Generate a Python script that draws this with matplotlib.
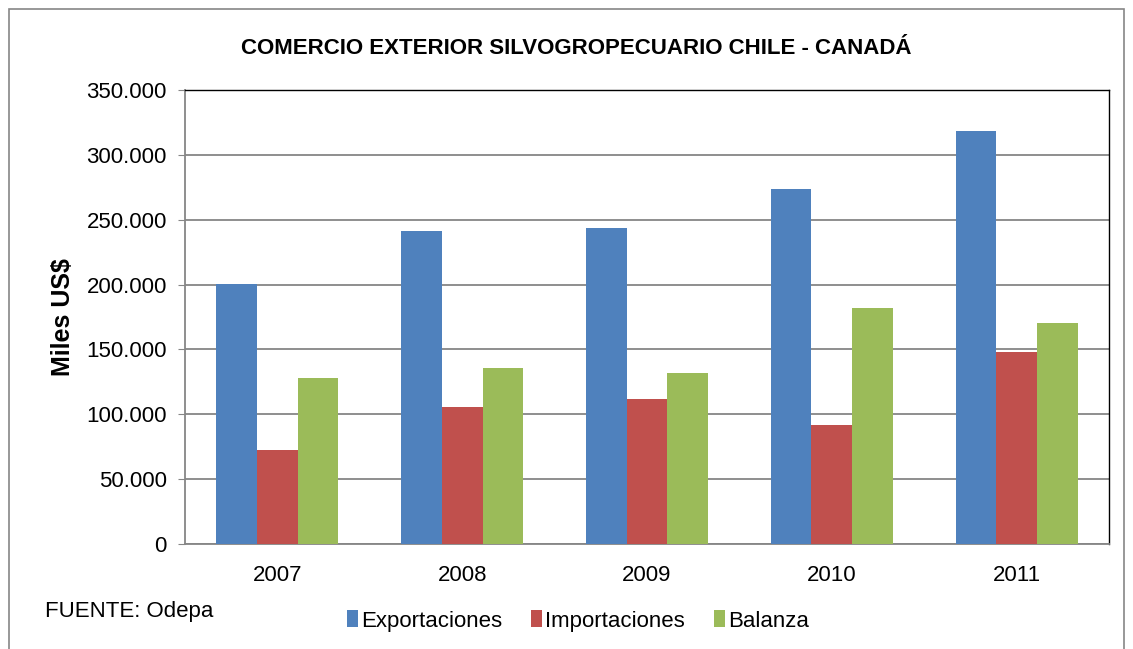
import numpy as np
import matplotlib
matplotlib.use("Agg")
import matplotlib.pyplot as plt
from matplotlib.patches import Rectangle

plt.rcParams["font.family"] = ["Liberation Sans", "DejaVu Sans"]

# values (miles US$)
years = ["2007", "2008", "2009", "2010", "2011"]
exportaciones = [200700, 241600, 243700, 273300, 318400]
importaciones = [72400, 105600, 111800, 91400, 147800]
balanza = [128300, 136000, 131900, 181900, 170600]
series_names = ["Exportaciones", "Importaciones", "Balanza"]
series_colors = ["#4F81BD", "#C0504D", "#9BBB59"]
yticks = [0, 50000, 100000, 150000, 200000, 250000, 300000, 350000]

W, H = 1133, 649
fig = plt.figure(figsize=(W / 100, H / 100), dpi=100)
ax = fig.add_axes([185 / W, 1 - 544 / H, (1109 - 185) / W, (544 - 90) / H])

# outer chart frame
fig.patches.append(Rectangle((9 / W, -0.01), (1124 - 9) / W, 1 - 9 / H + 0.01,
                             transform=fig.transFigure, fill=False,
                             edgecolor="#868686", linewidth=1.2))

x = np.arange(len(years))
bw = 0.22
for i, (vals, col) in enumerate(zip([exportaciones, importaciones, balanza],
                                    series_colors)):
    ax.bar(x + (i - 1) * bw, vals, width=bw, color=col, label=series_names[i],
           zorder=3)

ax.set_xlim(-0.5, len(years) - 0.5)
ax.set_ylim(0, 350000)
ax.set_yticks(yticks)
ax.set_yticklabels([f"{v:,}".replace(",", ".") for v in yticks], fontsize=16)
ax.set_xticks(x)
ax.set_xticklabels(years, fontsize=16)
ax.tick_params(axis="x", length=0, pad=15)
ax.tick_params(axis="y", length=5, color="#868686", pad=8)
ax.yaxis.grid(True, color="#868686", linewidth=1.3, zorder=0)
ax.set_axisbelow(True)

for s in ("top", "right"):
    ax.spines[s].set_color("black")
    ax.spines[s].set_linewidth(1.0)
for s in ("left", "bottom"):
    ax.spines[s].set_color("#868686")
    ax.spines[s].set_linewidth(1.3)

ax.set_ylabel("Miles US$", fontsize=18, fontweight="bold", labelpad=8)

fig.text(576 / W, 1 - 46 / H, "COMERCIO EXTERIOR SILVOGROPECUARIO CHILE - CANADÁ",
         ha="center", va="center_baseline", fontsize=16, fontweight="bold")
fig.text(45 / W, 1 - 612 / H, "FUENTE: Odepa", ha="left", va="center",
         fontsize=16)

fig.legend(loc="center", bbox_to_anchor=(578 / W, 1 - 621 / H), ncol=3,
           frameon=False, fontsize=16, handlelength=0.5, handleheight=0.8,
           handletextpad=0.15, columnspacing=1.3)

fig.savefig("out.png", dpi=100)
